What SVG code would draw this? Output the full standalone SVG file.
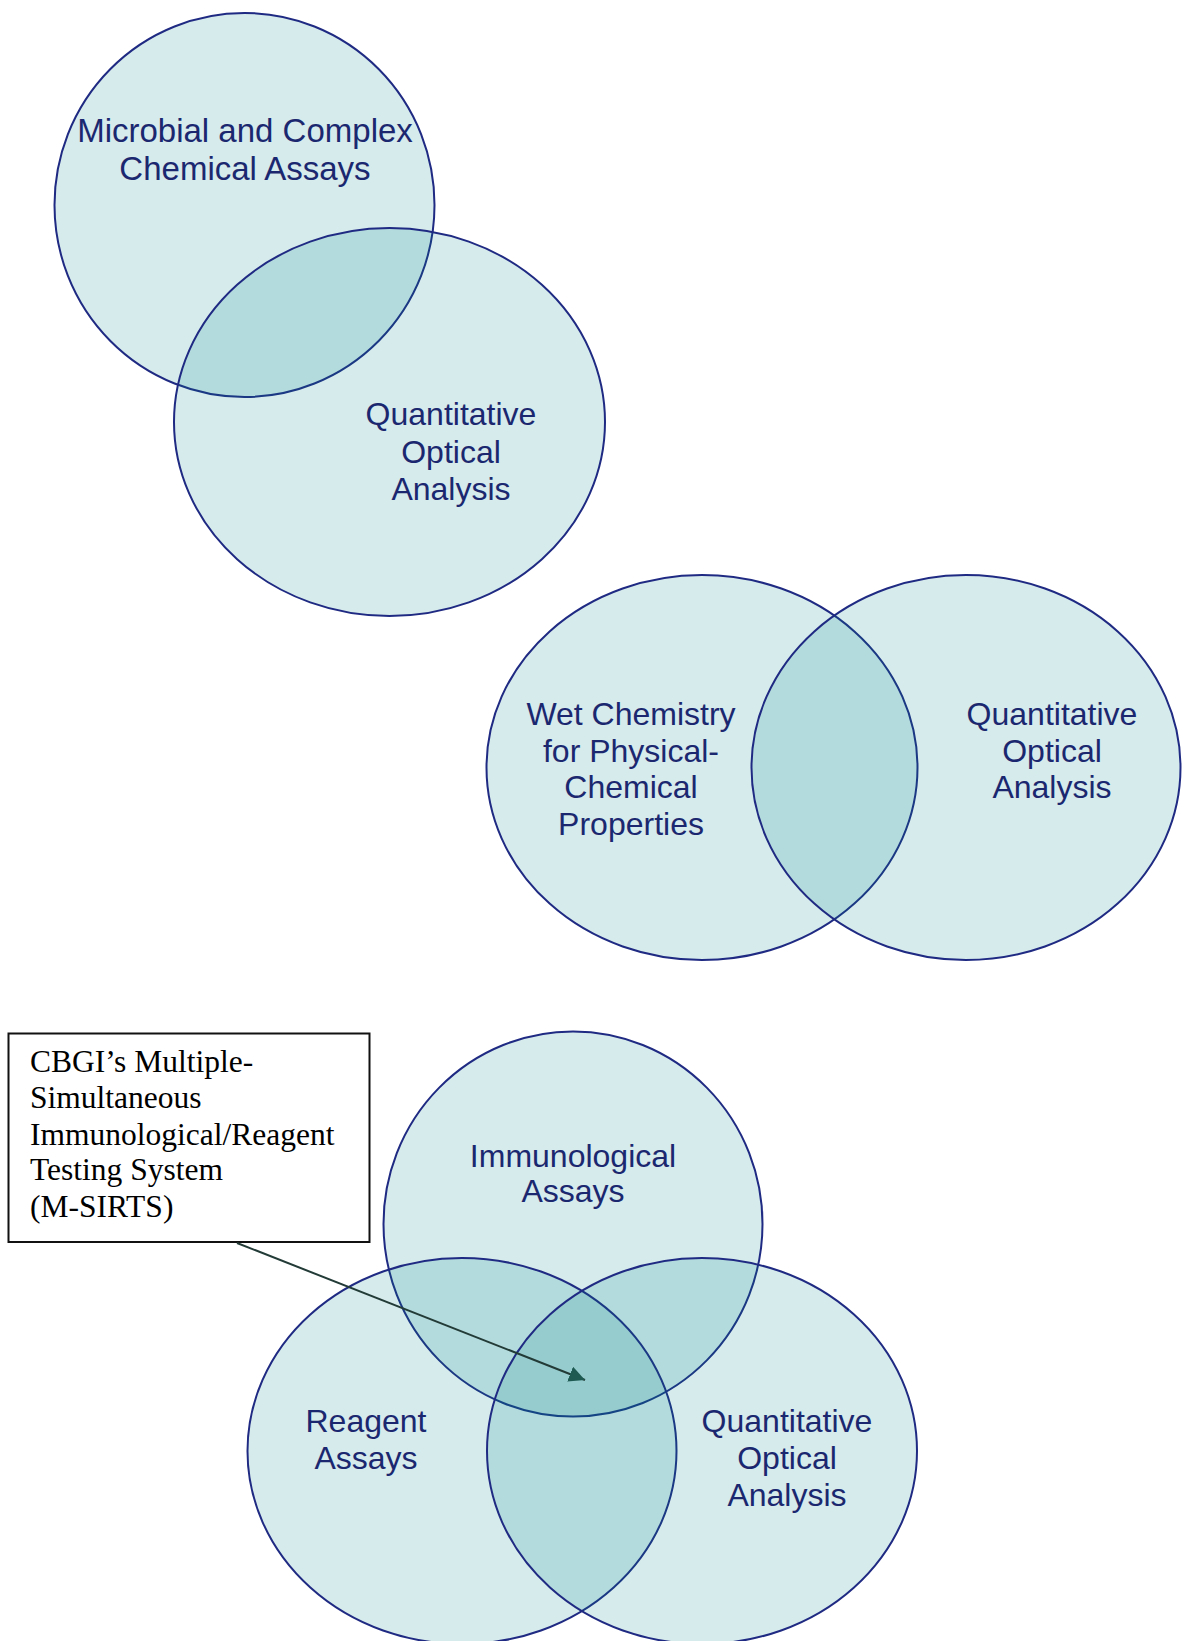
<svg xmlns="http://www.w3.org/2000/svg" width="1182" height="1641" viewBox="0 0 1182 1641">
<style>
.c{fill:rgb(0,130,136);fill-opacity:0.16;stroke:#1f2a82;stroke-width:2}
.t{font-family:"Liberation Sans",Arial,sans-serif;font-size:32px;fill:#1b2870;text-anchor:middle}
.b{font-family:"Liberation Serif","Times New Roman",serif;font-size:31.5px;fill:#000}
.box{fill:#fff;stroke:#111;stroke-width:2}
.conn{fill:none;stroke:#233b37;stroke-width:2}
</style>
<defs>
<marker id="ah" markerUnits="userSpaceOnUse" viewBox="0 0 16 16" refX="16" refY="8" markerWidth="16" markerHeight="16" orient="auto">
<path d="M0,0 L16,8 L0,16 z" fill="#1e5a52"/>
</marker>
</defs>
<rect width="1182" height="1641" fill="#fff"/>

<g id="microbial">
<ellipse class="c" cx="244.5" cy="205" rx="190" ry="192"/>
<text class="t" x="245" y="142" style="font-size:33px">Microbial and Complex</text>
<text class="t" x="245" y="180" style="font-size:33px">Chemical Assays</text>
</g>
<g id="optical1">
<ellipse class="c" cx="389.5" cy="422" rx="215.5" ry="194"/>
<text class="t" x="451" y="425">Quantitative</text>
<text class="t" x="451" y="463">Optical</text>
<text class="t" x="451" y="500">Analysis</text>
</g>

<g id="wetchem">
<ellipse class="c" cx="702" cy="767.5" rx="215.5" ry="192.5"/>
<text class="t" x="631" y="725">Wet Chemistry</text>
<text class="t" x="631" y="762">for Physical-</text>
<text class="t" x="631" y="798">Chemical</text>
<text class="t" x="631" y="835">Properties</text>
</g>
<g id="optical2">
<ellipse class="c" cx="966" cy="767.5" rx="214.5" ry="192.5"/>
<text class="t" x="1052" y="725">Quantitative</text>
<text class="t" x="1052" y="762">Optical</text>
<text class="t" x="1052" y="798">Analysis</text>
</g>

<g id="immuno">
<ellipse class="c" cx="573" cy="1224" rx="189.5" ry="192.5"/>
<text class="t" x="573" y="1167">Immunological</text>
<text class="t" x="573" y="1202">Assays</text>
</g>
<g id="reagent">
<ellipse class="c" cx="462" cy="1451" rx="214.5" ry="193"/>
<text class="t" x="366" y="1432">Reagent</text>
<text class="t" x="366" y="1469">Assays</text>
</g>
<g id="optical3">
<ellipse class="c" cx="702" cy="1451" rx="215" ry="193"/>
<text class="t" x="787" y="1432">Quantitative</text>
<text class="t" x="787" y="1469">Optical</text>
<text class="t" x="787" y="1506">Analysis</text>
</g>

<g id="msirts">
<rect class="box" x="8.5" y="1033.5" width="361" height="208.5"/>
<text class="b" x="30" y="1072">CBGI’s Multiple-</text>
<text class="b" x="30" y="1108">Simultaneous</text>
<text class="b" x="30" y="1145">Immunological/Reagent</text>
<text class="b" x="30" y="1180">Testing System</text>
<text class="b" x="30" y="1217">(M-SIRTS)</text>
</g>

<g id="connectors">
<path class="conn" d="M237,1243 L585,1380" marker-end="url(#ah)"/>
</g>
</svg>
